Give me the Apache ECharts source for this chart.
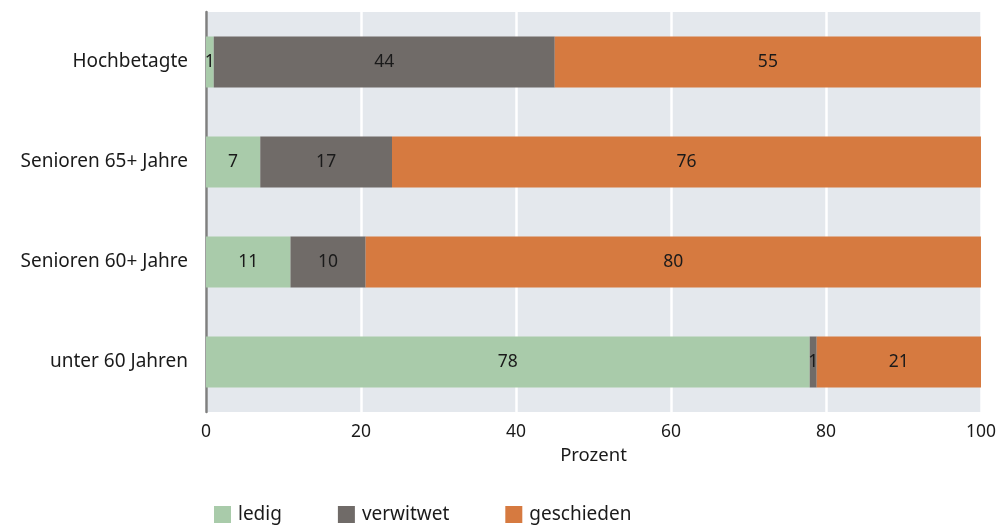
<!DOCTYPE html>
<html><head><meta charset="utf-8">
<script src="https://cdn.jsdelivr.net/npm/echarts@6/dist/echarts.min.js"></script>
<style>html,body{margin:0;padding:0;background:#fff}#c{width:1008px;height:525px}</style>
</head><body><div id="c"></div>
<script>
const categories = ['unter 60 Jahren', 'Senioren 60+ Jahre', 'Senioren 65+ Jahre', 'Hochbetagte'];
const ledig = [77.9, 10.9, 7.0, 1.0];
const verwitwet = [0.9, 9.7, 17.0, 44.0];
const geschieden = [21.2, 79.5, 76.0, 55.0];
const seriesNames = ['ledig', 'verwitwet', 'geschieden'];
const xTicks = [0, 20, 40, 60, 80, 100];

const FONT = 'Noto Sans';
const colors = ['#a9cbaa', '#706b68', '#d67a40'];
const data = [ledig, verwitwet, geschieden];

const chart = echarts.init(document.getElementById('c'), null, {renderer: 'canvas'});
chart.setOption({
  animation: false,
  textStyle: {fontFamily: FONT},
  grid: {left: 206, right: 27, top: 12, bottom: 113, backgroundColor: '#e4e8ed', show: true, borderWidth: 0},
  xAxis: {
    type: 'value', min: xTicks[0], max: xTicks[xTicks.length - 1], interval: 20,
    name: 'Prozent', nameLocation: 'middle', nameGap: 33,
    nameTextStyle: {fontSize: 18.5, color: '#1a1a1a', fontFamily: FONT},
    axisLine: {show: false}, axisTick: {show: false},
    axisLabel: {fontSize: 17.5, color: '#1a1a1a', margin: 11, fontFamily: FONT},
    splitLine: {show: true, lineStyle: {color: '#ffffff', width: 2.5}}
  },
  yAxis: {
    type: 'category', data: categories,
    axisLine: {show: true, lineStyle: {color: '#7f7f7f', width: 2.5}},
    axisTick: {show: false},
    axisLabel: {fontSize: 19, color: '#1a1a1a', margin: 18, fontFamily: FONT},
    splitLine: {show: false}
  },
  legend: {
    left: 214, top: 505, padding: 0, itemWidth: 17, itemHeight: 17, itemGap: 56,
    icon: 'rect', data: seriesNames,
    textStyle: {fontSize: 19, color: '#1a1a1a', fontFamily: FONT, padding: [0, 0, 0, 2]}
  },
  series: seriesNames.map((n, i) => ({
    name: n, type: 'bar', stack: 'total', data: data[i], barWidth: 51,
    itemStyle: {color: colors[i]},
    label: {show: true, position: 'inside', color: '#1a1a1a', fontSize: 17.5, fontFamily: FONT,
      formatter: p => Math.round(p.value)}
  }))
});
</script></body></html>
